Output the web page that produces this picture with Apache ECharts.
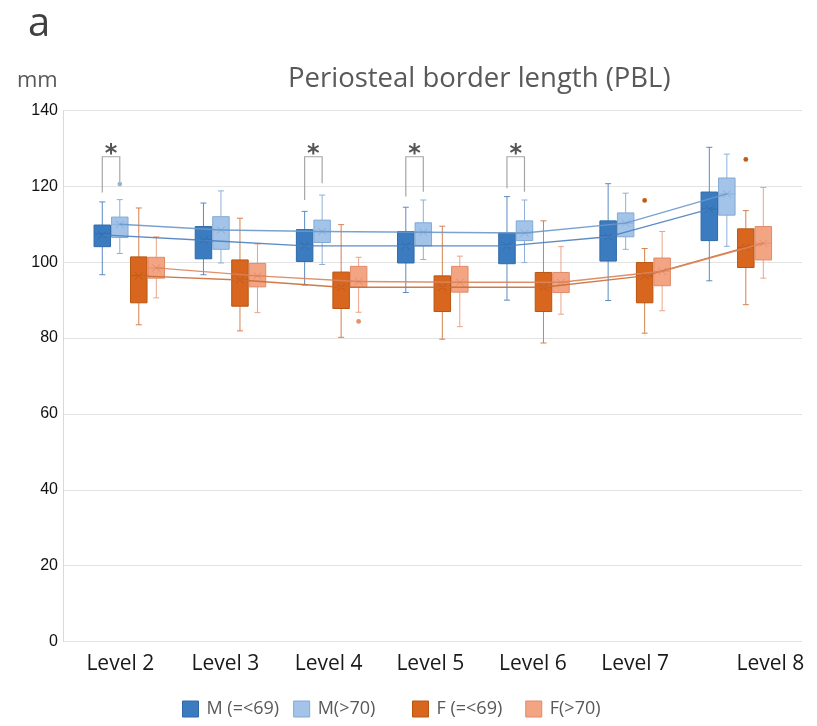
<!DOCTYPE html>
<html>
<head>
<meta charset="utf-8">
<script src="https://cdn.jsdelivr.net/npm/echarts@6/dist/echarts.min.js"></script>
<style>html,body{margin:0;padding:0;background:#fff;}#c{width:817px;height:726px;}</style>
</head>
<body>
<div id="c"></div>
<script>
// ---------------- DATA ----------------
const levels = ['Level 2', 'Level 3', 'Level 4', 'Level 5', 'Level 6', 'Level 7', 'Level 8'];
const seriesNames = ['M (=<69)', 'M(>70)', 'F (=<69)', 'F(>70)'];
const yTicks = [0, 20, 40, 60, 80, 100, 120, 140];

// per group: [min, q1, median, q3, max]
const boxM1 = [[96.7,104.1,107.5,109.8,115.9],[96.7,100.9,106.0,109.4,115.6],[94.0,100.2,104.5,108.6,113.4],[92.0,99.8,104.5,108.1,114.5],[90.0,99.6,104.5,107.7,117.3],[89.9,100.3,107.0,110.9,120.7],[95.1,105.7,114.0,118.5,130.3]];
const boxM2 = [[102.3,106.5,110.0,111.9,116.5],[99.8,103.4,108.5,112.0,118.8],[99.4,105.2,108.0,111.1,117.7],[100.7,104.3,108.0,110.4,116.4],[99.9,105.7,107.7,110.9,116.4],[103.4,106.7,110.3,113.0,118.2],[104.2,112.4,118.0,122.2,128.5]];
const boxF1 = [[83.5,89.3,96.5,101.4,114.3],[81.9,88.4,95.3,100.6,111.6],[80.2,87.8,93.4,97.4,109.9],[79.7,87.0,93.4,96.4,109.5],[78.7,87.0,93.4,97.3,110.9],[81.3,89.3,96.4,99.9,103.6],[88.8,98.6,103.9,108.8,113.6]];
const boxF2 = [[90.6,95.8,98.5,101.3,106.7],[86.7,93.5,96.4,99.7,104.8],[86.8,93.4,94.9,98.9,101.3],[83.0,92.1,94.7,98.9,101.6],[86.3,92.0,94.7,97.3,104.1],[87.2,93.8,97.6,101.1,108.1],[95.8,100.6,105.0,109.4,119.7]];

const meanM1 = [107.2, 105.8, 104.3, 104.3, 104.3, 106.7, 114.0];
const meanM2 = [110.0, 108.5, 108.1, 107.9, 107.7, 110.3, 118.0];
const meanF1 = [96.4, 95.3, 93.4, 93.4, 93.4, 96.4, 103.9];
const meanF2 = [98.5, 96.4, 94.9, 94.7, 94.7, 97.6, 105.0];

// outliers: [levelIndex, value]
const outM1 = [];
const outM2 = [[0, 120.6]];
const outF1 = [[5, 116.3], [6, 127.1]];
const outF2 = [[2, 84.4]];

// significance brackets (M groups)
const bracketLevel = [0, 2, 3, 4];
const bracketLeftBottom = [118.4, 116.4, 117.3, 119.5];
const bracketRightBottom = [121.2, 120.8, 118.6, 118.6];
const bracketTop = [127.8, 127.8, 127.8, 127.8];
const bracketMark = ['*', '*', '*', '*'];

// ---------------- STYLE / LAYOUT ----------------
const boxes = [boxM1, boxM2, boxF1, boxF2];
const means = [meanM1, meanM2, meanF1, meanF2];
const outs = [outM1, outM2, outF1, outF2];
const fills = ['#3b7cc0', '#a3c4e8', '#d9661f', '#f3a483'];
const borders = ['#2f69a6', '#82a9d6', '#b8560f', '#e08a66'];
const whiskerCol = ['#5a8bc3', '#8db0d8', '#d6804c', '#eba387'];
const lineCol = ['#4a7fbc', '#6a98cc', '#cc6a33', '#db845b'];
const outCol = ['#2f69a6', '#9fb4cc', '#c55a11', '#e8906a'];
const OFFSETS = [-27, -9.5, 9.5, 27];
const BOX_W = 16.5;
const CAP_W = 6;
const labelShift = [-9, -5, -3, -2.5, -1, 0, 34];

const GRID_TOP = 110.5, GRID_H = 531;

function makeBoxRender(k) {
  return function (params, api) {
    const i = api.value(0);
    const c = v => api.coord([i, v]);
    const x = c(api.value(1))[0] + OFFSETS[k];
    const yMin = c(api.value(1))[1], yQ1 = c(api.value(2))[1], yMed = c(api.value(3))[1],
          yQ3 = c(api.value(4))[1], yMax = c(api.value(5))[1], yMean = c(api.value(6))[1];
    const wst = { stroke: whiskerCol[k], lineWidth: 1 };
    const ch = [
      { type: 'line', shape: { x1: x, y1: yMax, x2: x, y2: yQ3 }, style: wst },
      { type: 'line', shape: { x1: x, y1: yQ1, x2: x, y2: yMin }, style: wst },
      { type: 'line', shape: { x1: x - CAP_W / 2, y1: yMax, x2: x + CAP_W / 2, y2: yMax }, style: wst },
      { type: 'line', shape: { x1: x - CAP_W / 2, y1: yMin, x2: x + CAP_W / 2, y2: yMin }, style: wst },
      { type: 'rect', shape: { x: x - BOX_W / 2, y: yQ3, width: BOX_W, height: yQ1 - yQ3 },
        style: { fill: fills[k], stroke: borders[k], lineWidth: 1 } },
      { type: 'line', shape: { x1: x - BOX_W / 2, y1: yMed, x2: x + BOX_W / 2, y2: yMed },
        style: { stroke: borders[k], lineWidth: 1, opacity: 0.7 } },
      { type: 'line', shape: { x1: x - 4, y1: yMean - 3.5, x2: x + 4, y2: yMean + 3.5 },
        style: { stroke: borders[k], lineWidth: 1, opacity: 0.8 } },
      { type: 'line', shape: { x1: x - 4, y1: yMean + 3.5, x2: x + 4, y2: yMean - 3.5 },
        style: { stroke: borders[k], lineWidth: 1, opacity: 0.8 } }
    ];
    if (i < levels.length - 1) {
      const nxt = api.coord([i + 1, means[k][i + 1]]);
      ch.push({ type: 'line', z2: 10,
        shape: { x1: x, y1: yMean, x2: nxt[0] + OFFSETS[k], y2: nxt[1] },
        style: { stroke: lineCol[k], lineWidth: 1.4, opacity: 0.9 } });
    }
    return { type: 'group', children: ch };
  };
}

const series = [];
for (let k = 0; k < 4; k++) {
  series.push({
    name: seriesNames[k],
    type: 'custom',
    xAxisIndex: 1, yAxisIndex: 1,
    itemStyle: { color: fills[k], borderColor: borders[k] },
    renderItem: makeBoxRender(k),
    encode: { x: 0, y: [1, 2, 3, 4, 5, 6] },
    data: boxes[k].map((b, i) => [i, b[0], b[1], b[2], b[3], b[4], means[k][i]]),
    z: 2
  });
}
// outliers
const outData = [];
outs.forEach((arr, k) => arr.forEach(o => outData.push([o[0], o[1], k])));
series.push({
  type: 'custom', xAxisIndex: 1, yAxisIndex: 1, z: 3,
  renderItem: function (params, api) {
    const k = api.value(2);
    const p = api.coord([api.value(0), api.value(1)]);
    return { type: 'circle', shape: { cx: p[0] + OFFSETS[k], cy: p[1], r: 2.4 }, style: { fill: outCol[k] } };
  },
  encode: { x: 0, y: 1 },
  data: outData
});
// brackets
series.push({
  type: 'custom', xAxisIndex: 1, yAxisIndex: 1, z: 3,
  renderItem: function (params, api) {
    const i = api.value(0);
    const pL = api.coord([i, api.value(1)]);
    const pR = api.coord([i, api.value(2)]);
    const pT = api.coord([i, api.value(3)]);
    const xl = pL[0] + OFFSETS[0], xr = pL[0] + OFFSETS[1];
    return { type: 'group', children: [
      { type: 'polyline', shape: { points: [[xl, pL[1]], [xl, pT[1]], [xr, pT[1]], [xr, pR[1]]] },
        style: { stroke: '#a6a6a6', lineWidth: 1.2, fill: null } },
      { type: 'text', style: { x: (xl + xr) / 2, y: pT[1] - 2, text: bracketMark[params.dataIndex],
        fill: '#555555', font: 'bold 24px "DejaVu Sans"', align: 'center', verticalAlign: 'middle' } }
    ] };
  },
  encode: { x: 0, y: [1, 2, 3] },
  data: bracketLevel.map((l, j) => [l, bracketLeftBottom[j], bracketRightBottom[j], bracketTop[j]])
});

const rich = {};
labelShift.forEach((s, i) => {
  rich['s' + i] = { fontFamily: 'Open Sans', fontSize: 21, color: '#1a1a1a',
    padding: s < 0 ? [0, -2 * s, 0, 0] : [0, 0, 0, 2 * s] };
});

const legendText = { fontFamily: 'Open Sans', fontSize: 18, color: '#595959', padding: [0, 0, 0, 3] };

const chart = echarts.init(document.getElementById('c'), null, { renderer: 'canvas' });
chart.setOption({
  animation: false,
  backgroundColor: '#ffffff',
  title: {
    text: 'Periosteal border length (PBL)', left: 283, top: 60,
    textStyle: { fontFamily: 'Open Sans', fontSize: 27.5, fontWeight: 'normal', color: '#595959' }
  },
  graphic: [
    { type: 'text', left: 28, top: 5, style: { text: 'a', font: '40px "Open Sans"', fill: '#404040' } },
    { type: 'text', left: 17, top: 70, style: { text: 'mm', font: '22px "Open Sans"', fill: '#595959' } }
  ],
  legend: [
    { left: 177, top: 695, itemWidth: 16, itemHeight: 16, itemGap: 14, icon: 'rect',
      textStyle: legendText,
      data: [0, 1].map(k => ({ name: seriesNames[k], itemStyle: { color: fills[k], borderColor: borders[k], borderWidth: 1 } })),
      selectedMode: false },
    { left: 407, top: 695, itemWidth: 16, itemHeight: 16, itemGap: 23, icon: 'rect',
      textStyle: legendText,
      data: [2, 3].map(k => ({ name: seriesNames[k], itemStyle: { color: fills[k], borderColor: borders[k], borderWidth: 1 } })),
      selectedMode: false }
  ],
  grid: [
    { left: 63, top: GRID_TOP, width: 739, height: GRID_H },
    { left: 78.7, top: GRID_TOP, width: 708.2, height: GRID_H }
  ],
  xAxis: [
    { gridIndex: 0, type: 'value', min: 0, max: 1, show: false },
    { gridIndex: 1, type: 'category', data: levels,
      axisLine: { show: false }, axisTick: { show: false },
      axisLabel: { margin: 12, interval: 0,
        formatter: (v, i) => '{s' + i + '|' + v + '}', rich: rich } }
  ],
  yAxis: [
    { gridIndex: 0, type: 'value', min: yTicks[0], max: yTicks[yTicks.length - 1], interval: 20,
      axisLine: { show: true, lineStyle: { color: '#d9d9d9' } },
      axisTick: { show: false },
      splitLine: { lineStyle: { color: '#e3e3e3', width: 1 } },
      axisLabel: { margin: 5, color: '#111', fontFamily: 'Liberation Sans', fontSize: 16,
        padding: [0, 0, 6, 0] } },
    { gridIndex: 1, type: 'value', min: yTicks[0], max: yTicks[yTicks.length - 1], show: false }
  ],
  series: series
});
</script>
</body>
</html>
